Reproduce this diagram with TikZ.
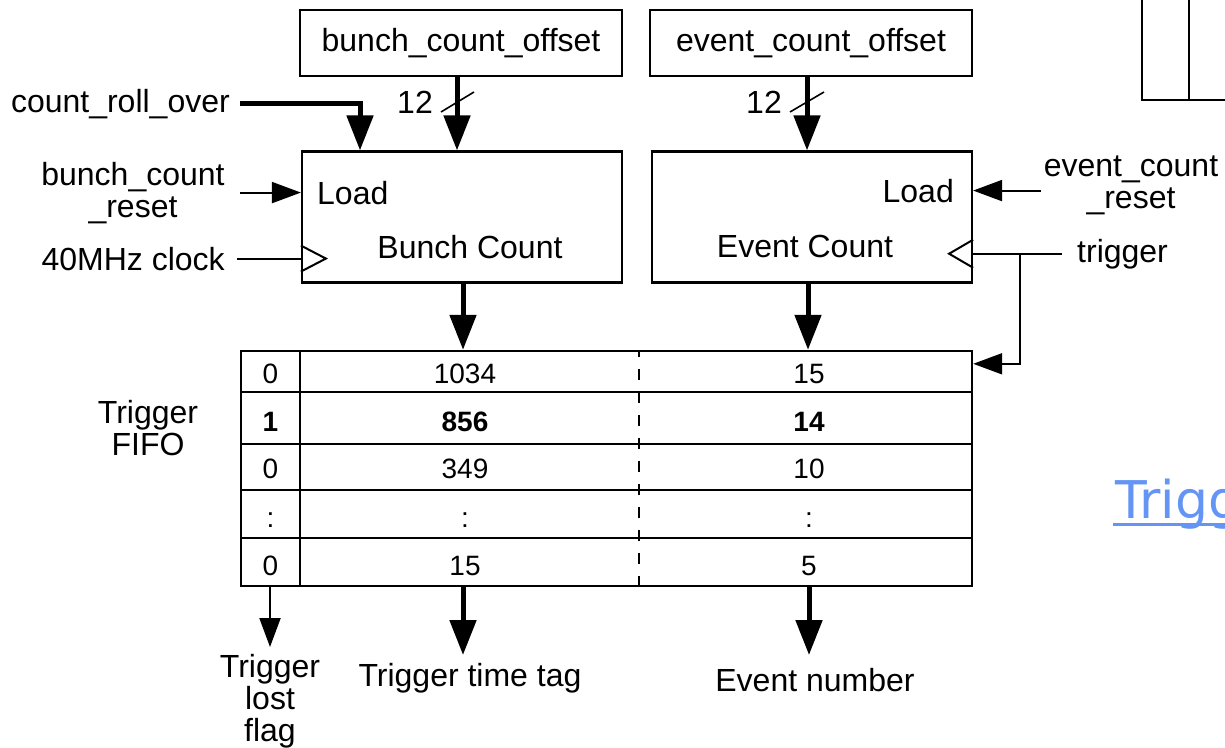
\documentclass[tikz,border=0pt]{standalone}
\usepackage{fontspec}
\setmainfont{Liberation Sans}
\newfontfamily\linkfam{DejaVu Sans}
\usetikzlibrary{arrows.meta,calc}
\definecolor{linkblue}{HTML}{6495F5}
\newcommand\lblfont{\fontsize{32}{32}\selectfont}
\newcommand\cellfont{\fontsize{28}{30}\selectfont}
\tikzset{
  x=1pt, y=-1pt,
  box/.style={draw, line width=2.2pt, inner sep=0pt, font=\lblfont},
  lbl/.style={font=\lblfont, inner sep=0pt, align=center},
  cell/.style={font=\cellfont, inner sep=0pt, anchor=base},
  thinline/.style={line width=2pt},
  thickarrow/.style={line width=5pt, -{Triangle[length=35pt,width=26pt]}},
  thinarrow/.style={line width=2pt, -{Triangle[length=29pt,width=21pt]}},
}
\begin{document}
\begin{tikzpicture}
\useasboundingbox (0,0) rectangle (1225,747);
\clip (0,0) rectangle (1225,747);

% offset registers
\node[box, minimum width=322pt, minimum height=66pt] (bco) at (461,43) {bunch\_count\_offset\hspace{8pt}};
\node[box, minimum width=322pt, minimum height=66pt] (eco) at (811,43) {event\_count\_offset\hspace{14pt}};

% counters
\node[box, minimum width=320pt, minimum height=131pt] (bc) at (462,217) {};
\node[box, minimum width=320pt, minimum height=131pt] (ec) at (812,217) {};
\node[lbl, anchor=base west] (lb) at (317,204) {Load};
\node[lbl, anchor=base] (bcn) at (470,258) {Bunch Count};
\node[lbl, anchor=base east] (el) at (954,202) {Load};
\node[lbl, anchor=base] (ecn) at (805,257) {Event Count};

% offset buses
\draw[thickarrow] ([xshift=-4pt]bco.south) -- ([xshift=-5pt]bc.north);
\draw[thickarrow] ([xshift=-4pt]eco.south) -- ([xshift=-5pt]ec.north);
\node[lbl, anchor=base east] (w1) at (433,113) {12};
\node[lbl, anchor=base east] (w2) at (782,113) {12};
\draw[line width=1.6pt] (441,112) -- (474,92);
\draw[line width=1.6pt] (790,112) -- (824,92);

% left inputs
\node[lbl, anchor=base east] (cro) at (230,112) {count\_roll\_over};
\draw[line width=5pt, -{Triangle[length=35pt,width=26pt]}] ($(cro.east)+(10,0)$) -| ([xshift=-102pt]bc.north);
\node[lbl, anchor=north] (bcr) at (133,162.5) {bunch\_count\\\_reset};
\draw[thinarrow] ($(bcr.east |- lb.west)+(15,0)$) -- (bc.west |- lb.west);
\node[lbl, anchor=base east] (clk) at (225,270) {40MHz clock};
\draw[thinline] ($(clk.east)+(12,0)$) -- (clk.east -| bc.west);
\draw[thinline] ($(bc.west |- clk.east)+(0,-13)$) -- ++(25,13) -- ++(-25,13);

% right inputs
\node[lbl, anchor=north] (ecr) at (1131,155.5) {event\_count\\\_reset};
\draw[thinarrow] ($(ecr.west |- el.east)+(-3,0)$) -- (ec.east |- el.east);
\node[lbl, anchor=base west] (trg) at (1077,262) {trigger};
\draw[thinline] ($(trg.west)+(-15,0)$) -- (trg.west -| ec.east);
\draw[thinline] ($(ec.east |- trg.west)+(0,-14)$) -- ++(-24,14) -- ++(24,14);
\coordinate (br) at ($(trg.west)+(-57,0)$);

% FIFO table
\node[draw, line width=2.4pt, minimum width=731pt, minimum height=235pt, inner sep=0pt] (fifo) at (606.5,468.5) {};
\foreach \yy in {392,444,490,538}
  \draw[line width=2.4pt] (fifo.west |- 0,\yy) -- (fifo.east |- 0,\yy);
\draw[thinline] (fifo.north -| 300,0) -- (fifo.south -| 300,0);
\draw[line width=1.6pt, dash pattern=on 11pt off 12pt, dash phase=4pt] (fifo.north -| 639,0) -- (fifo.south -| 639,0);

\node[cell] (a1) at (270.5,383) {0};
\node[cell] (b1) at (465,383) {1034};
\node[cell] (c1) at (809,383) {15};
\node[cell] (a2) at (270.5,431) {\bfseries 1};
\node[cell] (b2) at (465,431) {\bfseries 856};
\node[cell] (c2) at (809,431) {\bfseries 14};
\node[cell] (a3) at (270.5,478) {0};
\node[cell] (b3) at (465,478) {349};
\node[cell] (c3) at (809,478) {10};
\node[cell] (a4) at (270.5,527) {:};
\node[cell] (b4) at (465,527) {:};
\node[cell] (c4) at (809,527) {:};
\node[cell] (a5) at (270.5,575) {0};
\node[cell] (b5) at (465,575) {15};
\node[cell] (c5) at (809,575) {5};

\node[lbl, anchor=north] (tf) at (148,400.5) {Trigger\\FIFO};

% counters into FIFO
\draw[thickarrow] ([xshift=1pt]bc.south) -- ([xshift=1pt]bc.south |- fifo.north);
\draw[thickarrow] ([xshift=-4pt]ec.south) -- ([xshift=-4pt]ec.south |- fifo.north);
\draw[thinarrow] (br) |- ($(fifo.north east)+(0,14)$);

% outputs
\node[lbl, anchor=north] (tlf) at (270,654) {Trigger\\lost\\flag};
\node[lbl, anchor=north] (ttt) at (470,663) {Trigger time tag};
\node[lbl, anchor=north] (evn) at (815,668) {Event number};
\draw[thinarrow] (fifo.south -| tlf.north) -- ($(tlf.north)+(0,-7)$);
\draw[thickarrow] ($(fifo.south -| ttt.north)+(-7,0)$) -- ($(ttt.north)+(-7,-8)$);
\draw[thickarrow] ($(fifo.south -| evn.north)+(-6,0)$) -- ($(evn.north)+(-6,-13)$);

% partial elements at the right edge
\draw[line width=2.2pt] (1142,-5) -- (1142,100) -- (1235,100);
\draw[line width=2.2pt] (1189,-5) -- (1189,100);
\node[anchor=base west, inner sep=0pt, text=linkblue, font=\linkfam\fontsize{52}{56}\selectfont] (lnk) at (1115,518) {Trigg};
\draw[linkblue, line width=3pt] ($(lnk.base west)+(-2,6)$) -- ++(200,0);
\end{tikzpicture}
\end{document}
